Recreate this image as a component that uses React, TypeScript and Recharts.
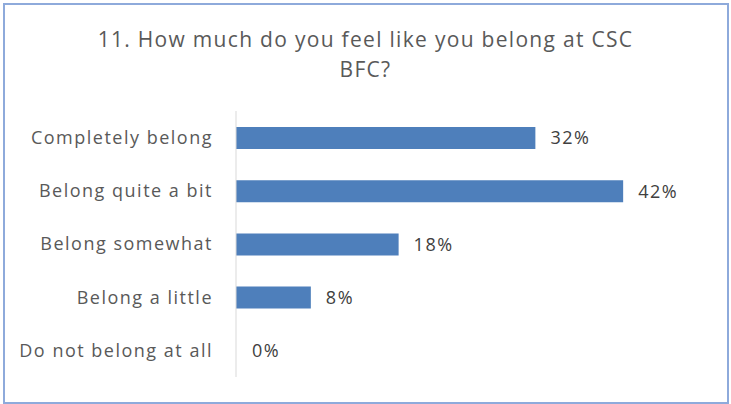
import { Bar, BarChart, Cell, LabelList, XAxis, YAxis } from "recharts";

const categories: string[] = [
  "Completely belong",
  "Belong quite a bit",
  "Belong somewhat",
  "Belong a little",
  "Do not belong at all",
];

const shares: number[] = [0.324, 0.419, 0.176, 0.081, 0];

const chartData = categories.map((name: string, i: number) => ({
  name,
  share: shares[i],
}));

const fontFamily = "'Open Sans', sans-serif";
const textStyle = { fontSize: 18, letterSpacing: 1.5, fontFamily };

export default function App() {
  return (
    <div
      style={{
        position: "absolute",
        left: 0,
        top: 0,
        width: 731,
        height: 404,
        background: "#ffffff",
        fontFamily,
        overflow: "hidden",
      }}
    >
      <div
        style={{
          position: "absolute",
          left: 3,
          top: 3,
          width: 726,
          height: 401,
          border: "2px solid #8eaadb",
          boxSizing: "border-box",
        }}
      />
      <div
        style={{
          position: "absolute",
          left: 0,
          top: 24,
          width: 731,
          textAlign: "center",
          fontSize: 21,
          letterSpacing: 1.3,
          lineHeight: "30px",
          color: "#595959",
        }}
      >
        11. How much do you feel like you belong at CSC
        <br />
        BFC?
      </div>
      <BarChart
        width={731}
        height={404}
        data={chartData}
        layout="vertical"
        margin={{ top: 111, right: 33, bottom: 27, left: 0 }}
        style={{ position: "absolute", left: 0, top: 0 }}
      >
        <XAxis type="number" domain={[0, 0.5]} hide />
        <YAxis
          type="category"
          dataKey="name"
          width={236}
          tickLine={false}
          tickSize={0}
          tickMargin={23}
          axisLine={{ stroke: "#d9d9d9", strokeWidth: 1 }}
          tick={{ ...textStyle, fill: "#595959" }}
        />
        <Bar
          dataKey="share"
          fill="#4e7fbb"
          barSize={22}
          minPointSize={(v: number) => (v === 0 ? 1 : 0)}
          isAnimationActive={false}
        >
          {chartData.map((d) => (
            <Cell
              key={d.name}
              fill={d.share === 0 ? "transparent" : "#4e7fbb"}
            />
          ))}
          <LabelList
            dataKey="share"
            position="right"
            offset={15}
            formatter={(v: number) => `${Math.round(v * 100)}%`}
            style={{ ...textStyle, fill: "#404040" }}
          />
        </Bar>
      </BarChart>
    </div>
  );
}
